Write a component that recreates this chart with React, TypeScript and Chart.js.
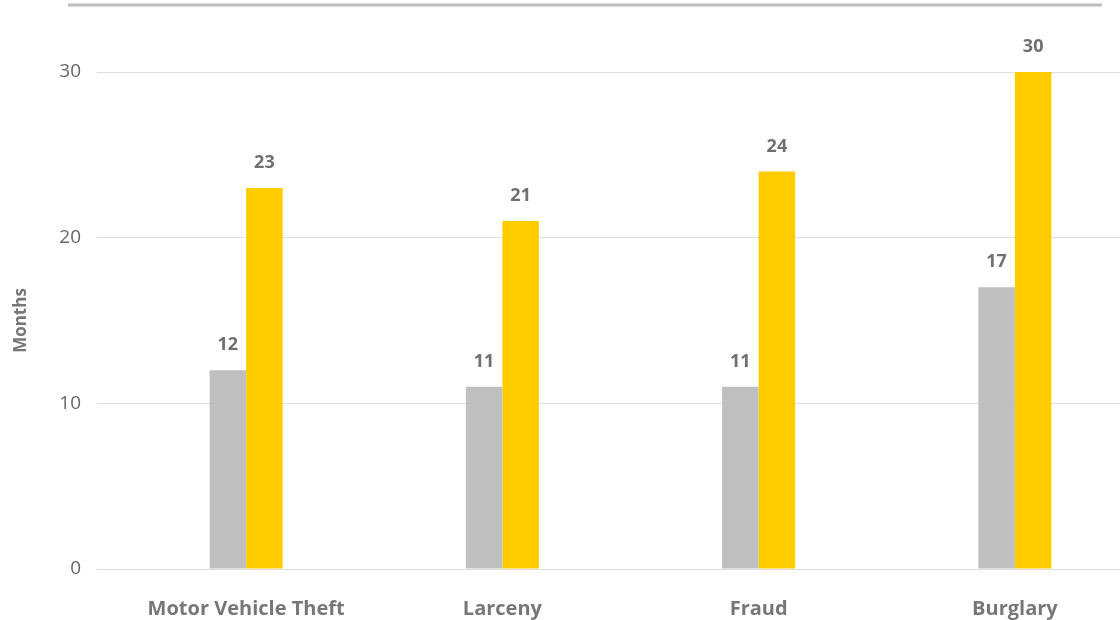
import React, { useEffect, useRef } from "react";
import { Chart, registerables } from "chart.js";

Chart.register(...registerables);

const categories = ["Motor Vehicle Theft", "Larceny", "Fraud", "Burglary"];
const seriesGray = [12, 11, 11, 17];
const seriesYellow = [23, 21, 24, 30];
const yTicks = [0, 10, 20, 30];

const FONT = "'Open Sans', Roboto, sans-serif";

const valueLabels = {
  id: "valueLabels",
  afterDatasetsDraw(chart: any) {
    const ctx = chart.ctx;
    ctx.save();
    ctx.font = `bold 18px ${FONT}`;
    ctx.fillStyle = "#707070";
    ctx.textAlign = "center";
    ctx.textBaseline = "middle";
    chart.data.datasets.forEach((ds: any, di: number) => {
      const meta = chart.getDatasetMeta(di);
      meta.data.forEach((bar: any, i: number) => {
        ctx.fillText(String(ds.data[i]), bar.x, bar.y - 25);
      });
    });
    ctx.restore();
  },
};

const topRule = {
  id: "topRule",
  beforeDraw(chart: any) {
    const ctx = chart.ctx;
    ctx.save();
    ctx.strokeStyle = "#bdbdbd";
    ctx.lineWidth = 3;
    ctx.beginPath();
    ctx.moveTo(68, 5);
    ctx.lineTo(1102, 5);
    ctx.stroke();
    ctx.restore();
  },
};

export default function App() {
  const ref = useRef<HTMLCanvasElement | null>(null);
  useEffect(() => {
    if (!ref.current) return;
    const chart = new Chart(ref.current, {
      type: "bar",
      data: {
        labels: categories,
        datasets: [
          { label: "A", data: seriesGray, backgroundColor: "#bfbfbf", barPercentage: 1, categoryPercentage: 0.285 },
          { label: "B", data: seriesYellow, backgroundColor: "#ffcc00", barPercentage: 1, categoryPercentage: 0.285 },
        ],
      },
      options: {
        responsive: false,
        animation: false,
        layout: { padding: { top: 72, right: 7, left: 0, bottom: 0 } },
        plugins: { legend: { display: false }, tooltip: { enabled: false } },
        scales: {
          x: {
            grid: { display: false, drawTicks: false },
            border: { display: false },
            ticks: { color: "#777777", font: { family: FONT, size: 20, weight: "bold" }, padding: 28 },
            afterFit(scale: any) { scale.height = 51; },
          },
          y: {
            min: 0,
            max: 30,
            afterBuildTicks(scale: any) { scale.ticks = yTicks.map((v) => ({ value: v })); },
            grid: { color: "#dddddd", lineWidth: 1, drawTicks: true, tickLength: 21 },
            border: { display: false },
            ticks: { color: "#666666", font: { family: FONT, size: 19 }, padding: 16 },
            title: { display: true, text: "Months", color: "#777777", font: { family: FONT, size: 17, weight: "bold" }, padding: { top: 11, bottom: 0 } },
            afterFit(scale: any) { scale.width = 118; },
          },
        },
      },
      plugins: [valueLabels, topRule],
    });
    return () => chart.destroy();
  }, []);
  return (
    <div style={{ position: "fixed", left: 0, top: 0, width: 1120, height: 620, overflow: "hidden", background: "#fff" }}>
      <canvas ref={ref} width={1150} height={620} style={{ display: "block" }} />
    </div>
  );
}
